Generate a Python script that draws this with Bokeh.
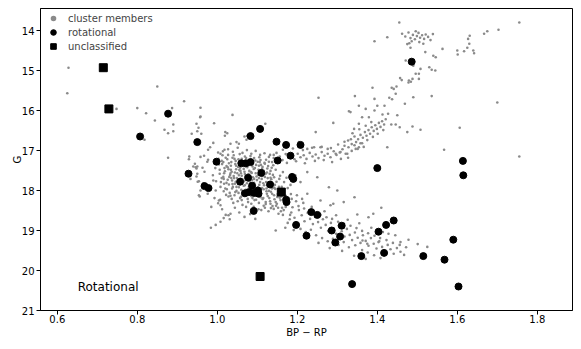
from bokeh.plotting import figure
from bokeh.models import Range1d, FixedTicker, Legend, LegendItem, Label
from bokeh.embed import file_html
from bokeh.resources import INLINE

# ---------------- data ----------------
members_core = [
    (1.003,17.21),(1.012,17.34),(1.021,17.18),(1.028,17.47),(1.035,17.29),(1.041,17.12),(1.047,17.38),(1.053,17.22),
    (1.058,17.51),(1.064,17.31),(1.069,17.15),(1.075,17.42),(1.081,17.27),(1.086,17.56),(1.092,17.19),(1.097,17.36),
    (1.103,17.48),(1.108,17.24),(1.114,17.61),(1.119,17.33),(1.125,17.45),(1.131,17.58),(1.137,17.29),(1.142,17.67),
    (0.995,17.44),(1.006,17.58),(1.015,17.66),(1.019,17.52),(1.026,17.73),(1.032,17.61),(1.038,17.84),(1.044,17.55),
    (1.049,17.69),(1.055,17.78),(1.061,17.63),(1.066,17.88),(1.072,17.71),(1.078,17.59),(1.083,17.82),(1.089,17.67),
    (1.094,17.93),(1.099,17.74),(1.105,17.86),(1.111,17.71),(1.116,17.97),(1.122,17.79),(1.128,17.89),(1.134,18.03),
    (1.139,17.84),(1.145,17.96),(1.151,18.09),(1.008,17.91),(1.017,17.83),(1.024,17.97),(1.031,18.06),(1.037,17.95),
    (1.043,18.12),(1.048,18.01),(1.054,17.92),(1.059,18.16),(1.065,18.04),(1.071,17.98),(1.076,18.21),(1.082,18.09),
    (1.087,18.02),(1.093,18.24),(1.098,18.13),(1.104,18.31),(1.109,18.07),(1.115,18.19),(1.121,18.34),(1.126,18.14),
    (1.132,18.27),(1.138,18.39),(1.143,18.22),(1.149,18.33),(1.156,18.18),(1.162,18.43),(0.989,17.62),(0.997,17.77),
    (1.002,17.05),(1.014,17.02),(1.027,16.97),(1.039,17.03),(1.051,16.93),(1.063,17.06),(1.074,16.99),(1.085,17.08),
    (1.096,17.01),(1.107,17.11),(1.118,17.07),(1.129,17.16),(1.141,17.11),(1.152,17.22),(1.011,17.26),(1.023,17.39),
    (1.034,17.48),(1.046,17.26),(1.057,17.43),(1.068,17.53),(1.079,17.35),(1.091,17.46),(1.102,17.61),(1.113,17.41),
    (1.124,17.55),(1.135,17.72),(1.146,17.48),(1.157,17.63),(1.167,17.79),(1.016,17.71),(1.029,17.85),(1.042,17.69),
    (1.054,17.62),(1.067,17.77),(1.079,17.91),(1.092,17.81),(1.104,17.69),(1.117,17.87),(1.129,18.01),(1.142,18.12),
    (1.154,17.91),(1.166,18.04),(1.178,18.19),(1.022,18.11),(1.036,18.21),(1.051,18.27),(1.063,18.36),(1.077,18.29),
    (1.091,18.41),(1.103,18.47),(1.116,18.38),(1.128,18.52),(1.141,18.46),(1.153,18.58),(1.166,18.49),(1.179,18.31),
    (1.188,18.42),(1.197,18.27),(1.045,17.34),(1.061,17.21),(1.073,17.29),(1.089,17.32),(1.101,17.28),(1.033,17.57),
    (1.047,17.47),(1.059,17.57),(1.071,17.65),(1.084,17.54),(1.096,17.57),(1.107,17.79),(1.119,17.66),(1.131,17.81),
    (1.025,17.22),(1.056,17.09),(1.083,17.14),(1.109,17.36),(1.122,17.23),(1.018,17.44),(1.037,17.75),(1.052,17.84),
    (1.069,17.87),(1.086,17.98),(1.099,18.06),(1.112,17.94),(1.124,18.08),(1.137,17.95),(1.158,18.24),(1.171,18.13),
    (1.184,18.09),(1.004,17.35),(1.013,17.12),(1.041,17.64),(1.058,17.71),(1.074,17.82),(1.087,17.74),(1.101,17.92),
    (1.113,18.21),(1.126,17.69),(1.139,17.61),(1.148,17.78),(1.161,17.91),(1.173,17.68),(1.183,17.86),
    (1.006,17.48),(1.015,17.29),(1.027,17.11),(1.034,17.38),(1.043,17.21),(1.050,17.57),(1.058,17.36),(1.066,17.46),
    (1.072,17.19),(1.080,17.51),(1.088,17.40),(1.095,17.25),(1.104,17.38),(1.110,17.52),(1.118,17.31),(1.127,17.39),
    (1.133,17.51),(1.140,17.37),(1.009,17.79),(1.020,17.95),(1.030,17.66),(1.039,17.91),(1.046,17.78),(1.053,18.06),
    (1.062,17.83),(1.070,18.11),(1.077,17.74),(1.085,18.14),(1.093,17.88),(1.100,18.01),(1.108,18.17),(1.115,17.82),
    (1.123,17.95),(1.130,18.19),(1.137,18.08),(1.146,18.29),(1.153,18.02),(1.160,18.15),(1.040,18.31),(1.057,18.19),
    (1.072,18.41),(1.085,18.33),(1.097,18.23),(1.110,18.49),(1.121,18.29),(1.134,18.44),(1.147,18.38),(1.159,18.52),
    (1.171,18.41),(1.182,18.61),(1.017,17.57),(1.026,17.42),(1.035,17.69),(1.044,17.83),(1.055,17.49),(1.063,17.72),
    (1.070,17.39),(1.081,17.64),(1.090,17.94),(1.098,17.65),(1.106,17.29),(1.116,17.51),(1.125,17.87),(1.136,17.43),
    (1.144,17.86),(1.155,17.71),(1.164,17.54),(1.176,17.94),
    (1.029,17.32),(1.038,17.18),(1.052,17.41),(1.062,17.26),(1.077,17.38),(1.085,17.23),(1.094,17.44),(1.105,17.17),
    (1.112,17.46),(1.121,17.58),(1.129,17.28),(1.011,17.69),(1.023,17.81),(1.036,17.53),(1.048,17.91),(1.060,17.98),
    (1.069,17.59),(1.081,17.77),(1.092,17.71),(1.103,17.97),(1.114,17.63),(1.123,18.02),(1.133,17.68),(1.142,17.93),
    (1.150,18.16),(1.016,18.02),(1.028,18.15),(1.045,18.04),(1.061,18.24),(1.074,18.06),(1.088,18.19),(1.106,18.11),
    (1.119,18.43),(1.133,18.33),(1.152,18.43),(1.168,18.27),
]

members_core_edge = [
    (0.975,17.28),(0.968,17.53),(0.982,17.92),(0.976,18.08),(0.993,18.19),(1.002,18.32),(0.985,18.41),(0.958,17.16),
    (0.965,17.82),(0.948,17.65),(1.012,18.47),(1.021,18.61),(1.031,18.72),(1.008,18.78),(0.996,18.86),(0.984,18.93),
    (1.055,18.55),(1.068,18.66),(1.082,18.59),(1.095,18.71),(1.044,18.43),(0.954,18.12),(1.004,18.25),(1.008,18.37),
    (1.033,18.58),(1.016,18.69),(1.028,18.62),(1.146,19.00),(1.170,18.93),(1.225,17.54),(1.250,17.67),(1.279,17.92),
    (1.300,18.00),(1.208,17.79),(1.225,18.08),(1.195,17.62),(1.212,18.21),
]

members_lower_ms = [
    (1.172,18.36),(1.185,18.55),(1.193,18.68),(1.204,18.49),(1.211,18.62),(1.218,18.77),(1.226,18.56),(1.232,18.71),
    (1.239,18.84),(1.245,18.66),(1.252,18.79),(1.259,18.93),(1.264,18.72),(1.271,18.86),(1.277,19.01),(1.284,18.81),
    (1.291,18.95),(1.297,19.08),(1.304,18.89),(1.311,19.02),(1.318,19.15),(1.324,18.96),(1.331,19.11),(1.337,19.24),
    (1.344,19.05),(1.351,19.18),(1.358,19.31),(1.364,19.12),(1.371,19.26),(1.378,19.38),(1.384,19.19),(1.391,19.33),
    (1.398,19.45),(1.405,19.27),(1.412,19.41),(1.419,19.52),(1.426,19.36),(1.433,19.47),(1.441,19.58),(1.449,19.44),
    (1.458,19.53),(1.467,19.61),(1.181,18.72),(1.196,18.88),(1.208,18.96),(1.221,19.04),(1.234,18.98),(1.247,19.12),
    (1.262,19.19),(1.276,19.27),(1.289,19.21),(1.303,19.36),(1.316,19.29),(1.329,19.42),(1.345,19.37),(1.362,19.49),
    (1.376,19.55),(1.392,19.62),(1.408,19.69),(1.203,18.39),(1.217,18.45),(1.231,18.51),(1.246,18.58),(1.258,18.61),
    (1.273,18.67),(1.287,18.71),(1.302,18.78),(1.317,18.83),(1.333,18.88),(1.348,18.94),(1.362,19.01),(1.377,19.07),
    (1.393,19.13),(1.407,19.19),(1.423,19.24),(1.439,19.31),(1.456,19.36),(1.472,19.42),(1.215,18.31),(1.236,18.41),
    (1.268,18.52),(1.297,18.62),(1.326,18.73),(1.355,18.82),(1.385,18.93),(1.414,19.04),(1.445,19.12),(1.478,19.23),
    (1.501,19.34),(1.525,19.41),(1.164,18.61),(1.176,18.81),(1.191,18.99),(1.224,19.18),(1.253,19.31),(1.281,19.44),
    (1.312,19.51),(1.342,19.63),(1.371,19.71),(1.458,19.29),(1.410,18.43),(1.390,18.58),(1.378,18.67),(1.350,18.60),
    (1.343,18.17),(1.316,18.29),(1.290,18.33),(1.283,18.37),(1.258,18.25),(1.428,19.08),(1.403,19.29),(1.363,19.25),
    (1.375,19.33),(1.186,18.21),(1.199,18.12),
]

members_binary = [
    (1.132,17.11),(1.141,17.19),(1.148,17.06),(1.156,17.15),(1.163,17.24),(1.171,17.09),(1.178,17.18),(1.186,17.13),
    (1.193,17.22),(1.201,17.08),(1.208,17.17),(1.216,17.12),(1.223,17.21),(1.231,17.06),(1.238,17.15),(1.246,17.10),
    (1.253,17.19),(1.261,17.04),(1.268,17.13),(1.276,17.08),(1.283,17.17),(1.291,17.02),(1.298,17.11),(1.306,17.05),
    (1.313,16.97),(1.321,17.08),(1.328,16.92),(1.336,17.01),(1.343,16.87),(1.351,16.96),(1.358,16.82),(1.366,16.91),
    (1.152,17.29),(1.174,17.31),(1.197,17.27),(1.219,17.32),(1.244,17.26),(1.266,17.24),(1.287,17.29),(1.309,17.21),
    (1.327,17.18),(1.164,16.98),(1.189,16.95),(1.214,16.99),(1.237,16.93),(1.261,16.91),(1.284,16.94),(1.302,16.85),
    (1.318,16.78),(1.334,16.72),(1.204,16.79),(1.225,16.96),(1.242,16.92),(1.258,16.92),(1.276,16.96),(1.296,17.08),
    (1.308,17.04),(1.325,17.08),(1.346,16.96),(1.354,16.92),
]

members_giant = [
    (1.352,16.72),(1.358,16.61),(1.364,16.68),(1.369,16.54),(1.373,16.63),(1.378,16.49),(1.382,16.58),(1.386,16.42),
    (1.391,16.51),(1.395,16.37),(1.399,16.46),(1.404,16.31),(1.408,16.41),(1.412,16.27),(1.417,16.35),(1.421,16.22),
    (1.343,16.65),(1.347,16.79),(1.362,16.82),(1.375,16.74),(1.389,16.66),(1.401,16.58),(1.415,16.49),(1.338,16.57),
    (1.355,16.47),(1.371,16.38),(1.385,16.29),(1.327,16.75),(1.318,16.88),(1.336,16.84),(1.342,16.46),(1.354,16.33),
    (1.435,16.35),(1.446,16.35),(1.456,16.42),(1.475,16.54),(1.488,16.40),(1.508,16.48),(1.425,16.92),
    (1.333,16.04),(1.362,16.17),(1.379,16.17),(1.413,16.10),(1.427,16.08),(1.450,16.12),(1.371,15.96),(1.393,16.00),
    (1.354,15.88),(1.400,15.88),(1.418,15.88),(1.393,15.71),(1.344,15.64),(1.469,15.83),(1.430,15.68),(1.437,15.72),
    (1.490,15.67),(1.536,15.64),(1.446,15.58),(1.388,15.43),(1.436,15.43),(1.448,15.40),(1.441,15.46),(1.478,15.30),
    (1.484,15.28),(1.457,15.19),(1.461,15.24),(1.479,15.25),(1.488,15.21),(1.504,15.21),(1.496,15.08),(1.504,15.08),
    (1.545,15.00),(1.530,14.92),(1.536,14.98),(1.508,14.96),(1.490,14.88),(1.471,14.75),(1.540,14.63),(1.546,14.67),
    (1.520,14.54),(1.563,14.46),(1.483,14.43),(1.480,14.32),(1.393,14.27),(1.425,14.17),(1.455,13.80),
    (1.462,14.08),(1.470,14.15),(1.478,14.05),(1.483,14.19),(1.489,14.11),(1.494,14.22),(1.499,14.14),(1.503,14.06),
    (1.507,14.18),(1.512,14.12),(1.517,14.21),(1.521,14.10),(1.527,14.16),(1.533,14.24),(1.539,14.09),(1.486,14.27),
    (1.505,14.29),(1.475,14.34),(1.496,14.02),(1.515,14.33),
    (1.600,14.50),(1.601,14.60),(1.617,14.52),(1.625,14.43),(1.627,14.21),(1.631,14.13),(1.630,14.33),(1.640,14.50),
    (1.642,14.57),(1.667,14.08),(1.675,14.02),(1.703,13.98),(1.755,13.80),
]

members_field = [
    (0.628,14.93),(0.625,15.57),(0.850,15.40),(0.917,15.77),(0.748,15.96),(0.800,15.94),(0.822,16.07),(0.887,15.94),
    (0.958,15.93),(0.818,16.73),(0.844,16.25),(0.868,16.48),(0.890,16.35),(0.877,16.57),(0.890,16.52),(0.936,16.58),
    (0.948,16.33),(0.950,16.52),(0.877,17.18),(0.930,17.15),(0.929,17.22),(0.940,17.40),(0.944,17.33),(0.950,17.40),
    (0.948,17.45),(0.951,17.78),(0.956,18.15),(0.957,16.17),(0.992,16.32),(1.038,16.11),(0.953,16.43),(0.960,16.58),
    (1.025,16.57),(1.019,16.63),(0.990,16.81),(0.982,16.92),(0.977,16.98),(0.967,17.13),(0.977,17.23),(0.946,17.42),
    (0.963,17.43),(0.950,17.58),(0.933,17.71),(0.954,17.77),(0.958,18.00),(0.990,17.75),(0.996,18.00),(1.007,18.23),
    (1.033,18.13),(1.008,17.08),(1.018,16.98),(1.033,16.83),(1.048,16.79),(1.054,16.83),(1.068,16.65),(1.073,16.73),
    (0.958,16.15),(1.020,16.54),(1.075,16.63),(1.120,16.33),(1.290,16.31),(1.329,16.02),(1.246,16.54),(1.253,15.68),
    (1.567,16.98),(1.606,16.43),(1.700,15.80),(1.755,17.15),
]

rot_bp_rp = [0.807, 0.877, 0.950, 0.928, 0.998, 0.968, 0.978, 1.107, 1.083, 1.148, 1.172, 1.208, 1.183, 1.151,
             1.060, 1.071, 1.083, 1.110, 1.077, 1.057, 1.187, 1.190, 1.132, 1.087, 1.069, 1.079, 1.092, 1.102,
             1.103, 1.172, 1.173, 1.091, 1.197, 1.235, 1.250, 1.223, 1.286, 1.311, 1.307, 1.295, 1.400, 1.486,
             1.614, 1.615, 1.403, 1.422, 1.441, 1.417, 1.360, 1.515, 1.568, 1.590, 1.337, 1.603]
rot_g = [16.65, 16.08, 16.79, 17.58, 17.28, 17.89, 17.94, 16.46, 16.64, 16.78, 16.86, 16.86, 17.13, 17.25,
         17.32, 17.32, 17.29, 17.56, 17.68, 17.78, 17.66, 17.71, 17.85, 17.88, 18.07, 18.04, 18.06, 18.00,
         18.08, 18.23, 18.29, 18.51, 18.86, 18.54, 18.61, 19.13, 19.00, 18.88, 19.15, 19.30, 17.44, 14.78,
         17.26, 17.62, 19.03, 18.86, 18.75, 19.56, 19.64, 19.64, 19.73, 19.23, 20.34, 20.40]

unc_bp_rp = [0.715, 0.729, 1.160, 1.107]
unc_g = [14.93, 15.96, 18.04, 20.15]

x_ticks = [0.6, 0.8, 1.0, 1.2, 1.4, 1.6, 1.8]
x_tick_labels = ["0.6", "0.8", "1.0", "1.2", "1.4", "1.6", "1.8"]
y_ticks = [14, 15, 16, 17, 18, 19, 20, 21]
y_tick_labels = ["14", "15", "16", "17", "18", "19", "20", "21"]

members = members_core + members_core_edge + members_lower_ms + members_binary + members_giant + members_field
mem_bp_rp = [m[0] for m in members]
mem_g = [m[1] for m in members]

# ---------------- figure ----------------
FONT = "DejaVu Sans"
p = figure(width=581, height=349, output_backend="svg", toolbar_location=None,
           x_range=Range1d(0.558, 1.888), y_range=Range1d(21.0, 13.45),
           min_border_left=40, min_border_right=9, min_border_top=8, min_border_bottom=39)
p.grid.visible = False
p.outline_line_color = "black"
p.outline_line_width = 1
p.background_fill_color = "white"
p.border_fill_color = "white"

r_mem = p.scatter(mem_bp_rp, mem_g, marker="circle", size=2.6, color="#8a8a8a", line_width=0)
r_rot = p.scatter(rot_bp_rp, rot_g, marker="circle", size=7, fill_color="black", line_color="black")
r_unc = p.scatter(unc_bp_rp, unc_g, marker="square", size=8, fill_color="black", line_color="black")

for ax in (p.xaxis[0], p.yaxis[0]):
    ax.axis_line_color = "black"
    ax.major_tick_line_color = "black"
    ax.major_tick_in = 0
    ax.major_tick_out = 4
    ax.minor_tick_line_color = None
    ax.major_label_text_font = FONT
    ax.major_label_text_font_size = "10px"
    ax.major_label_text_color = "black"
    ax.axis_label_text_font = FONT
    ax.axis_label_text_font_size = "10px"
    ax.axis_label_text_font_style = "normal"
    ax.axis_label_text_color = "black"

p.xaxis.ticker = FixedTicker(ticks=x_ticks)
p.xaxis.major_label_overrides = dict(zip(x_ticks, x_tick_labels))
p.yaxis.ticker = FixedTicker(ticks=y_ticks)
p.yaxis.major_label_overrides = dict(zip(y_ticks, y_tick_labels))
p.xaxis.axis_label = "BP \u2212 RP"
p.yaxis.axis_label = "G"
p.xaxis.major_label_standoff = 0
p.xaxis.axis_label_standoff = 1
p.yaxis.major_label_standoff = 2
p.yaxis.axis_label_standoff = -4

legend = Legend(items=[LegendItem(label="cluster members", renderers=[r_mem]),
                       LegendItem(label="rotational", renderers=[r_rot]),
                       LegendItem(label="unclassified", renderers=[r_unc])],
                location="top_left", border_line_color=None, background_fill_alpha=0,
                glyph_width=20, glyph_height=14, label_height=12, spacing=-2,
                padding=5, margin=3, label_standoff=5,
                label_text_font=FONT, label_text_font_size="10px")
p.add_layout(legend)

p.add_layout(Label(x=0.651, y=20.4, text="Rotational", text_font=FONT, text_font_size="12px",
                   text_baseline="middle", text_align="left", text_color="black"))

open("out.html", "w").write(file_html(p, INLINE))
